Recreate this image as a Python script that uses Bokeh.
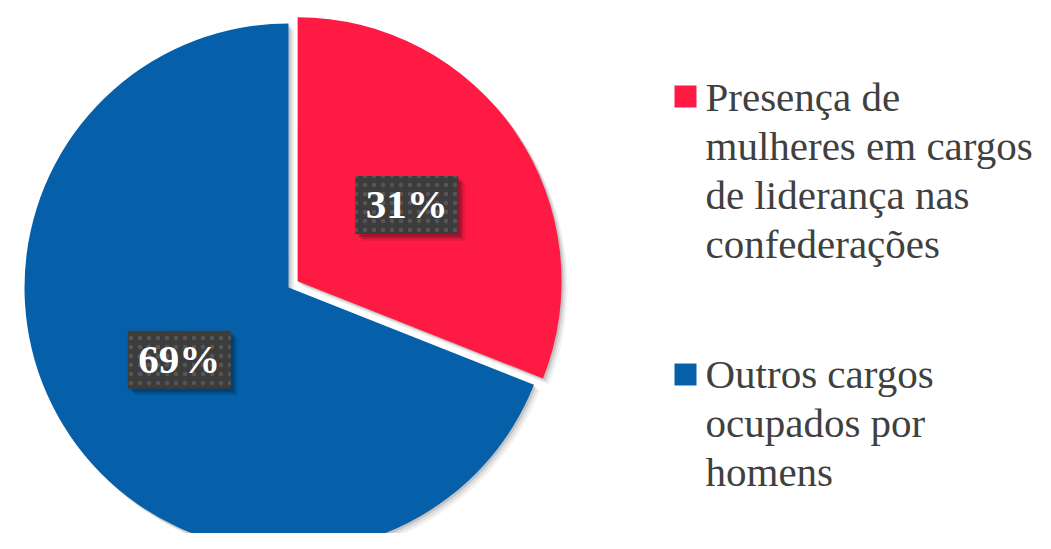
import math
from bokeh.plotting import figure
from bokeh.models import Range1d
from bokeh.core.properties import value
from bokeh.embed import file_html
from bokeh.resources import INLINE

# ---- data ----
categories = ["Presença de mulheres em cargos de liderança nas confederações",
              "Outros cargos ocupados por homens"]
values = [31, 69]
pct_labels = ["31%", "69%"]
legend_labels = ["Presença de\nmulheres em cargos\nde liderança nas\nconfederações",
                 "Outros cargos\nocupados por\nhomens"]
colors = ["#FF1A44", "#0660A9"]
explode = [11, 0]

# ---- layout constants (reference pixel coordinates) ----
FW, FH = 1035, 533
H = 549
CX, CY = 288, 287          # pie center (ref px)
R = 264

def Y(y):  # reference y (top-down) -> data y (bottom-up)
    return H - y

p = figure(width=FW, height=FH, x_range=Range1d(0, FW), y_range=Range1d(H - FH, H),
           output_backend="svg", toolbar_location=None, min_border=0)
p.axis.visible = False
p.grid.visible = False
p.outline_line_color = None
p.background_fill_color = "white"
p.border_fill_color = "white"

total = sum(values)
cum = 0.0
wedges = []
for v, col, ex in zip(values, colors, explode):
    c0 = cum / total * 2 * math.pi
    c1 = (cum + v) / total * 2 * math.pi
    cum += v
    mid = (c0 + c1) / 2
    dx, dy = math.sin(mid), math.cos(mid)   # dy in data (upwards)
    cx = CX + ex * dx
    cy = Y(CY) + ex * dy
    wedges.append((cx, cy, math.pi / 2 - c1, math.pi / 2 - c0, col, mid))

# shadows
for (cx, cy, a0, a1, col, mid) in wedges:
    for off, alpha in [(6, 0.05), (4, 0.08), (2, 0.12)]:
        p.wedge(x=cx + off, y=cy - off, radius=R, start_angle=a0, end_angle=a1,
                fill_color="black", fill_alpha=alpha, line_color=None)
for (cx, cy, a0, a1, col, mid) in wedges:
    p.wedge(x=cx, y=cy, radius=R, start_angle=a0, end_angle=a1,
            fill_color=col, line_color=None)

# data labels
BW, BH = 103, 58
for (cx, cy, a0, a1, col, mid), lab in zip(wedges, pct_labels):
    lx = cx + 0.5 * R * math.sin(mid)
    ly = cy + 0.5 * R * math.cos(mid) + 2
    for off, alpha in [(7, 0.08), (5, 0.12), (3, 0.18)]:
        p.rect(x=lx + off, y=ly - off, width=BW, height=BH,
               fill_color="black", fill_alpha=alpha, line_color=None)
    p.rect(x=lx, y=ly, width=BW, height=BH, fill_color="#3C3C3C", line_color=None,
           hatch_pattern="dot", hatch_color="#555555", hatch_scale=9, hatch_weight=1)
    p.text(x=[lx], y=[ly + 1], text=[lab], text_color="white", text_font=value("Liberation Serif"),
           text_font_style="bold", text_font_size="41px", text_align="center",
           text_baseline="middle")

# legend
leg_square_y = [96, 374]
leg_first_baseline = [96, 373]
LINE_STEP = 49
for sy, by, col, lab in zip(leg_square_y, leg_first_baseline, colors, legend_labels):
    p.rect(x=685, y=Y(sy), width=22, height=22, fill_color=col, line_color=None)
    for i, line in enumerate(lab.split("\n")):
        p.text(x=[705], y=[Y(by + i * LINE_STEP)], text=[line], text_color="#404040",
               text_font=value("Liberation Serif"), text_font_size="41px",
               text_align="left", text_baseline="alphabetic")

open("out.html", "w").write(file_html(p, INLINE))
